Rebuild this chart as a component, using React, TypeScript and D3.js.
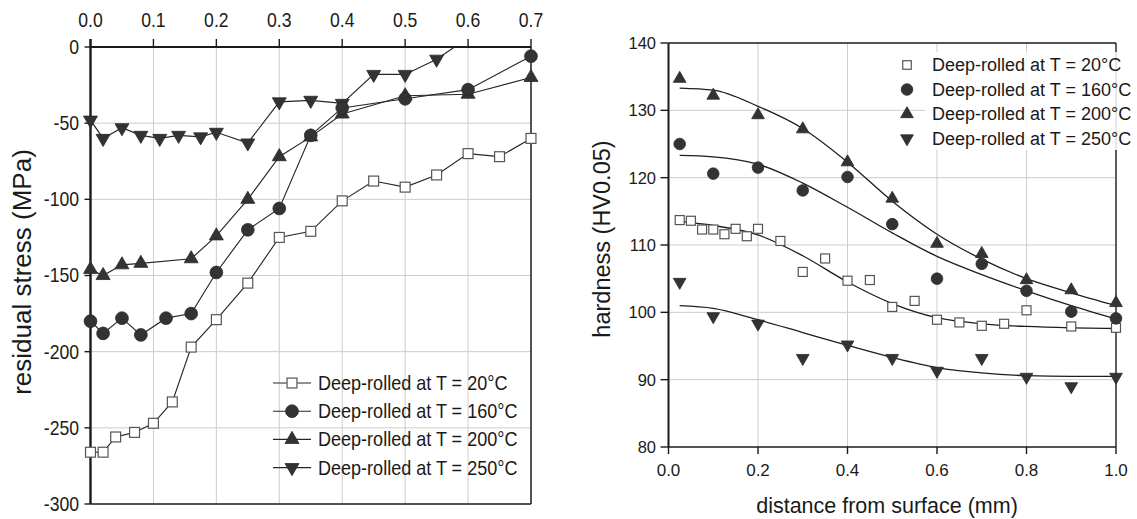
import React from "react";
import * as d3 from "d3";

// ---------- Left panel: residual stress vs depth ----------
const stressTicksX = [0, 0.1, 0.2, 0.3, 0.4, 0.5, 0.6, 0.7];
const stressTicksY = [0, -50, -100, -150, -200, -250, -300];

const stressX20 = [0.0, 0.02, 0.04, 0.07, 0.10, 0.13, 0.16, 0.20, 0.25, 0.30, 0.35, 0.40, 0.45, 0.50, 0.55, 0.60, 0.65, 0.70];
const stressY20 = [-266, -266, -256, -253, -247, -233, -197, -179, -155, -125, -121, -101, -88, -92, -84, -70, -72, -60];

const stressX160 = [0.0, 0.02, 0.05, 0.08, 0.12, 0.16, 0.20, 0.25, 0.30, 0.35, 0.40, 0.50, 0.60, 0.70];
const stressY160 = [-180, -188, -178, -189, -178, -175, -148, -120, -106, -58, -40, -34, -28, -6];

const stressX200 = [0.0, 0.02, 0.05, 0.08, 0.16, 0.20, 0.25, 0.30, 0.35, 0.40, 0.50, 0.60, 0.70];
const stressY200 = [-146, -150, -143, -142, -139, -124, -100, -72, -59, -44, -32, -31, -20];

const stressX250 = [0.0, 0.02, 0.05, 0.08, 0.11, 0.14, 0.175, 0.20, 0.25, 0.30, 0.35, 0.40, 0.45, 0.50, 0.55, 0.60];
const stressY250 = [-48, -60, -53, -58, -60, -58, -59, -56, -63, -36, -35, -37, -18, -18, -8, 6];

// ---------- Right panel: hardness vs distance ----------
const hardTicksX = [0, 0.2, 0.4, 0.6, 0.8, 1.0];
const hardTicksY = [80, 90, 100, 110, 120, 130, 140];

const hardX20 = [0.025, 0.05, 0.075, 0.10, 0.125, 0.15, 0.175, 0.20, 0.25, 0.30, 0.35, 0.40, 0.45, 0.50, 0.55, 0.60, 0.65, 0.70, 0.75, 0.80, 0.90, 1.0];
const hardY20 = [113.7, 113.6, 112.3, 112.3, 111.6, 112.4, 111.3, 112.4, 110.6, 106.0, 108.0, 104.7, 104.8, 100.8, 101.7, 98.9, 98.5, 98.0, 98.3, 100.3, 97.9, 97.7];

const hardX = [0.025, 0.10, 0.20, 0.30, 0.40, 0.50, 0.60, 0.70, 0.80, 0.90, 1.0];
const hardY160 = [125.0, 120.6, 121.5, 118.1, 120.1, 113.1, 105.0, 107.2, 103.2, 100.1, 99.1];
const hardY200 = [134.7, 132.2, 129.3, 127.2, 122.3, 116.9, 110.2, 108.7, 104.8, 103.3, 101.4];
const hardY250 = [104.5, 99.4, 98.3, 93.2, 95.2, 93.2, 91.3, 93.2, 90.4, 89.0, 90.4];

const fitX = [0.025, 0.10, 0.20, 0.30, 0.40, 0.50, 0.60, 0.70, 0.80, 0.90, 1.0];
const fit20 = [113.5, 112.9, 111.5, 108.4, 104.5, 101.3, 99.2, 98.3, 97.9, 97.7, 97.6];
const fit160 = [123.3, 123.1, 122.0, 119.2, 115.6, 111.8, 108.3, 105.6, 103.2, 101.0, 99.0];
const fit200 = [133.3, 133.0, 130.6, 127.3, 122.3, 116.5, 111.6, 107.9, 105.0, 102.9, 101.0];
const fit250 = [101.0, 100.6, 98.9, 97.0, 95.1, 93.3, 91.8, 91.0, 90.6, 90.5, 90.5];

const legendLabels = [
  "Deep-rolled at T = 20°C",
  "Deep-rolled at T = 160°C",
  "Deep-rolled at T = 200°C",
  "Deep-rolled at T = 250°C",
];
const markerKinds = ["square", "circle", "up", "down"];

const FONT = "'Liberation Sans', Arial, Helvetica, sans-serif";
const INK = "#1a1a1a";
const GRID = "#cdcdcd";
const MARK = "#333333";

type Pt = [number, number];
const zip = (xs: number[], ys: number[]): Pt[] => xs.map((x, i) => [x, ys[i]]);

function T(props: any) {
  const { x, y, size, sx = 1, anchor = "start", rotate = 0, baseline = "central", children } = props;
  return (
    <g transform={`translate(${x},${y}) scale(${sx},1) rotate(${rotate})`}>
      <text fontSize={size} textAnchor={anchor} dominantBaseline={baseline} fontFamily={FONT} fill={INK}>
        {children}
      </text>
    </g>
  );
}

function Marker({ kind, x, y, scale = 1 }: any) {
  if (kind === "square") {
    const s = 9 * scale;
    return <rect x={x - s / 2} y={y - s / 2} width={s} height={s} fill="#fff" stroke="#555" strokeWidth={1.2} />;
  }
  if (kind === "circle") {
    return <circle cx={x} cy={y} r={5.8 * scale} fill={MARK} stroke="#2a2a2a" strokeWidth={0.8} />;
  }
  const size = 70 * scale * scale;
  const p = d3.symbol().type(d3.symbolTriangle).size(size)() as string;
  return (
    <path d={p} transform={`translate(${x},${y}) rotate(${kind === "down" ? 180 : 0})`} fill={MARK} stroke="#2a2a2a" strokeWidth={0.8} />
  );
}

function LeftPanel() {
  const x = d3.scaleLinear().domain([0, 0.7]).range([90.5, 531]);
  const y = d3.scaleLinear().domain([0, -300]).range([47, 504]);
  const line = d3.line<Pt>().x((d) => x(d[0])).y((d) => y(d[1]));
  const series: Pt[][] = [
    zip(stressX20, stressY20),
    zip(stressX160, stressY160),
    zip(stressX200, stressY200),
    zip(stressX250, stressY250),
  ];
  const [x0, x1] = x.range();
  const [y0, y1] = y.range();
  const order = [3, 2, 1, 0];
  return (
    <g>
      <defs>
        <clipPath id="clipL">
          <rect x={x0 - 12} y={y0} width={x1 - x0 + 24} height={y1 - y0 + 12} />
        </clipPath>
      </defs>
      {stressTicksX.slice(1, -1).map((t) => (
        <line key={"gx" + t} x1={x(t)} x2={x(t)} y1={y0} y2={y1} stroke={GRID} strokeWidth={1} />
      ))}
      {stressTicksY.slice(1, -1).map((t) => (
        <line key={"gy" + t} x1={x0} x2={x1} y1={y(t)} y2={y(t)} stroke={GRID} strokeWidth={1} />
      ))}
      <line x1={x1} x2={x1} y1={y0} y2={y1} stroke={INK} strokeWidth={1.5} />
      <line x1={x0} x2={x1} y1={y1} y2={y1} stroke={INK} strokeWidth={1.5} />
      <line x1={x0} x2={x1} y1={y0} y2={y0} stroke={INK} strokeWidth={2} />
      <line x1={x0} x2={x0} y1={y0 - 8} y2={y1} stroke={INK} strokeWidth={2.4} />
      {stressTicksX.map((t) => (
        <g key={"tx" + t}>
          <line x1={x(t)} x2={x(t)} y1={y0} y2={y0 - 8} stroke={INK} strokeWidth={1.4} />
          <T x={x(t)} y={20.5} size={20} sx={0.88} anchor="middle">{d3.format(".1f")(t)}</T>
        </g>
      ))}
      {stressTicksY.map((t) => (
        <g key={"ty" + t}>
          <line x1={x0} x2={x0 - 6} y1={y(t)} y2={y(t)} stroke={INK} strokeWidth={1.4} />
          <T x={79} y={y(t)} size={20} sx={0.88} anchor="end">{String(t)}</T>
        </g>
      ))}
      <T x={22} y={272} size={26} rotate={-90} anchor="middle">residual stress (MPa)</T>
      <g clipPath="url(#clipL)">
        {order.map((i) => (
          <path key={"l" + i} d={line(series[i]) as string} fill="none" stroke="#262626" strokeWidth={1.15} />
        ))}
        {order.map((i) =>
          series[i].map((d, j) => <Marker key={i + "-" + j} kind={markerKinds[i]} x={x(d[0])} y={y(d[1])} scale={1.1} />)
        )}
      </g>
      {legendLabels.map((lab, i) => {
        const ly = 383 + i * 28.2;
        return (
          <g key={"lg" + i}>
            <line x1={273} x2={311} y1={ly} y2={ly} stroke="#262626" strokeWidth={1.15} />
            <Marker kind={markerKinds[i]} x={292} y={ly} scale={1.1} />
            <T x={318} y={ly} size={20.5} sx={0.88}>{lab}</T>
          </g>
        );
      })}
    </g>
  );
}

function RightPanel() {
  const x = d3.scaleLinear().domain([0, 1]).range([668.5, 1116]);
  const y = d3.scaleLinear().domain([80, 140]).range([447, 43]);
  const curve = d3.line<Pt>().x((d) => x(d[0])).y((d) => y(d[1])).curve(d3.curveMonotoneX);
  const [x0, x1] = x.range();
  const [y1, y0] = y.range();
  const pts: Pt[][] = [zip(hardX20, hardY20), zip(hardX, hardY160), zip(hardX, hardY200), zip(hardX, hardY250)];
  const fits: Pt[][] = [zip(fitX, fit20), zip(fitX, fit160), zip(fitX, fit200), zip(fitX, fit250)];
  return (
    <g>
      {hardTicksX.slice(1, -1).map((t) => (
        <line key={"gx" + t} x1={x(t)} x2={x(t)} y1={y0} y2={y1} stroke={GRID} strokeWidth={1} />
      ))}
      {hardTicksY.slice(1, -1).map((t) => (
        <line key={"gy" + t} x1={x0} x2={x1} y1={y(t)} y2={y(t)} stroke={GRID} strokeWidth={1} />
      ))}
      <line x1={x0} x2={x1} y1={y0} y2={y0} stroke={INK} strokeWidth={1.5} />
      <line x1={x1} x2={x1} y1={y0} y2={y1} stroke={INK} strokeWidth={1.4} />
      <line x1={x0} x2={x0} y1={y0} y2={y1} stroke={INK} strokeWidth={2} />
      <line x1={x0} x2={x1} y1={y1} y2={y1} stroke={INK} strokeWidth={1.7} />
      {hardTicksX.map((t) => (
        <g key={"tx" + t}>
          <line x1={x(t)} x2={x(t)} y1={y1} y2={y1 + 7} stroke={INK} strokeWidth={1.4} />
          <T x={x(t)} y={470} size={17} anchor="middle">{d3.format(".1f")(t)}</T>
        </g>
      ))}
      {hardTicksY.map((t) => (
        <g key={"ty" + t}>
          <line x1={x0} x2={x0 - 8} y1={y(t)} y2={y(t)} stroke={INK} strokeWidth={1.4} />
          <T x={656} y={y(t)} size={16.5} anchor="end">{String(t)}</T>
        </g>
      ))}
      <T x={887} y={506} size={21.5} anchor="middle">distance from surface (mm)</T>
      <T x={602} y={239} size={23.5} rotate={-90} anchor="middle">hardness (HV0.05)</T>
      {fits.map((f, i) => (
        <path key={"f" + i} d={curve(f) as string} fill="none" stroke="#1e1e1e" strokeWidth={1.3} />
      ))}
      {pts.map((s, i) =>
        s.map((d, j) => <Marker key={i + "-" + j} kind={markerKinds[i]} x={x(d[0])} y={y(d[1])} scale={1} />)
      )}
      <rect x={925} y={52} width={212} height={98} fill="#fff" opacity={0.85} />
      {legendLabels.map((lab, i) => {
        const ly = 65 + i * 24.5;
        return (
          <g key={"lg" + i}>
            <Marker kind={markerKinds[i]} x={907} y={ly} scale={i === 0 ? 0.95 : 1} />
            <T x={932} y={ly} size={18}>{lab}</T>
          </g>
        );
      })}
    </g>
  );
}

export default function App() {
  return (
    <svg
      width={1137}
      height={519}
      viewBox="0 0 1137 519"
      style={{ position: "absolute", left: 0, top: 0, background: "#fff", display: "block" }}
    >
      <rect width={1137} height={519} fill="#fff" />
      <LeftPanel />
      <RightPanel />
    </svg>
  );
}
